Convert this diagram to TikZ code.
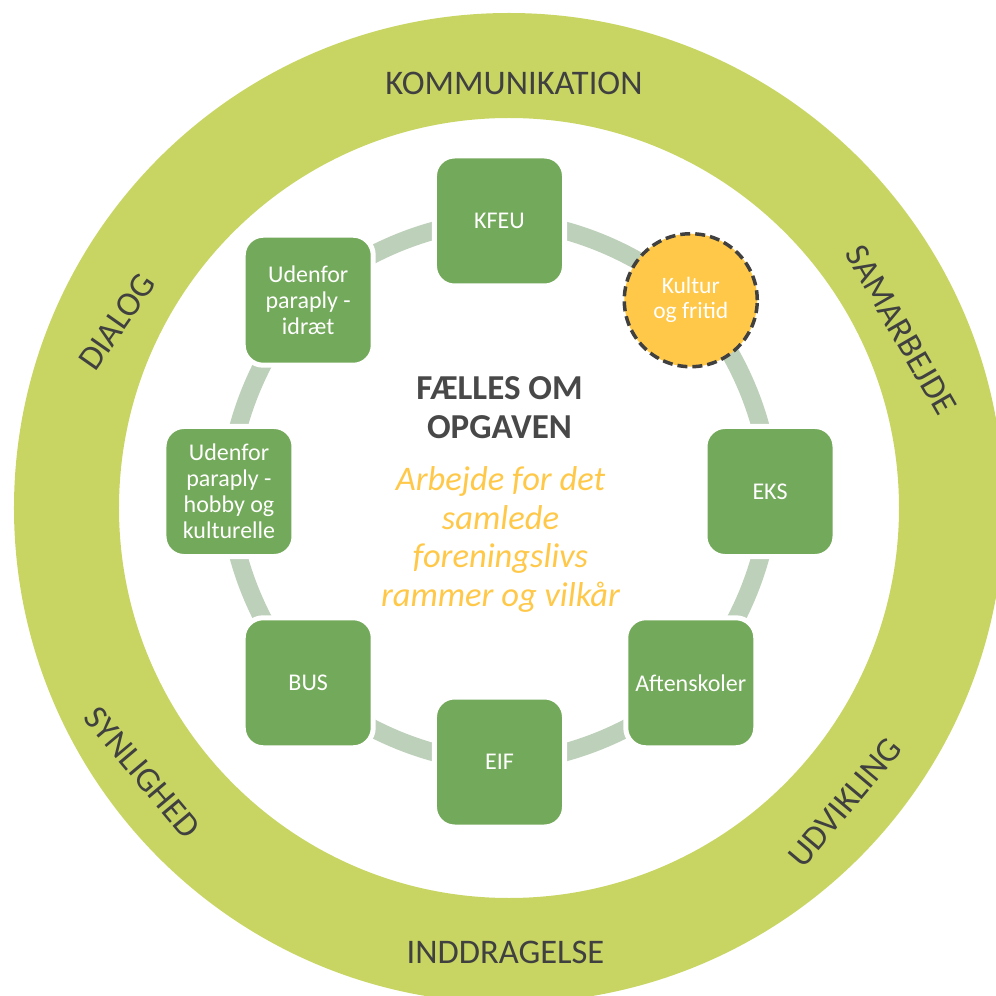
\documentclass[tikz,border=0pt]{standalone}
\usepackage{fontspec}
\setmainfont{Carlito}
\usetikzlibrary{backgrounds}

\definecolor{ringgron}{RGB}{200,213,99}
\definecolor{boksgron}{RGB}{115,169,90}
\definecolor{buefarve}{RGB}{189,208,185}
\definecolor{gul}{RGB}{255,200,72}
\definecolor{morkgra}{RGB}{64,64,64}
\definecolor{overskriftgra}{RGB}{72,72,72}

\begin{document}
\begin{tikzpicture}[%
x=1pt, y=1pt,
forening/.style={rounded corners=20pt, minimum size=130pt, inner sep=0pt, fill=boksgron, draw=white, line width=5pt, text=white, align=center, font=\fontsize{24}{26}\selectfont},
kultur/.style={circle, minimum size=133pt, inner sep=0pt, fill=gul, draw=morkgra, line width=3.5pt, dash pattern=on 10pt off 5pt, text=white, align=center, font=\fontsize{23.5}{25}\selectfont},
bue/.style={draw=buefarve, line width=18pt, bend left=22.5, looseness=0.8},
ordet/.style={text=morkgra, font=\fontsize{34.5}{34.5}\selectfont},
]

\useasboundingbox (-499.5,-504.5) rectangle (496.5,491.5);

\pgfmathsetmacro{\radius}{270.5}

% den ydre ring
\fill[ringgron, even odd rule] (9.5,-16.5) circle[radius=495pt] (9.5,-16.5) circle[radius=390pt];

\node[ordet] (kommunikation) at (14.5,408.5) {KOMMUNIKATION};
\node[ordet, rotate=-60] (samarbejde) at (401.5,161.5) {SAMARBEJDE};
\node[ordet, rotate=50] (udvikling) at (345.5,-311) {UDVIKLING};
\node[ordet] (inddragelse) at (6,-460.5) {INDDRAGELSE};
\node[ordet, rotate=-50] (synlighed) at (-357,-281) {SYNLIGHED};
\node[ordet, rotate=55] (dialog) at (-382.5,169.5) {DIALOG};

% kredsen
\node[forening] (kfeu) at (90:\radius) {KFEU};
\node[kultur] (kultur) at (45:\radius) {Kultur\\og fritid};
\node[forening] (eks) at (0:\radius) {EKS};
\node[forening] (aftenskoler) at (-45:\radius) {Aftenskoler};
\node[forening] (eif) at (-90:\radius) {EIF};
\node[forening] (bus) at (-135:\radius) {BUS};
\node[forening] (hobby) at (180:\radius) {Udenfor\\paraply -\\hobby og\\kulturelle};
\node[forening] (idraet) at (135:\radius) {Udenfor\\paraply -\\idræt};

\begin{scope}[on background layer]
\foreach \fra/\til in {kfeu/kultur, kultur/eks, eks/aftenskoler, aftenskoler/eif, eif/bus, bus/hobby, hobby/idraet, idraet/kfeu}
  \draw[bue] (\fra.center) to (\til.center);
\end{scope}

% midten
\node[font=\bfseries\fontsize{35}{39.5}\selectfont, text=overskriftgra, align=center] (overskrift) at (0,83.7) {FÆLLES OM\\OPGAVEN};
\node[font=\itshape\fontsize{34.5}{38.5}\selectfont, text=gul, align=center] (opgave) at (1,-48) {Arbejde for det\\samlede\\foreningslivs\\rammer og vilkår};

\end{tikzpicture}
\end{document}
